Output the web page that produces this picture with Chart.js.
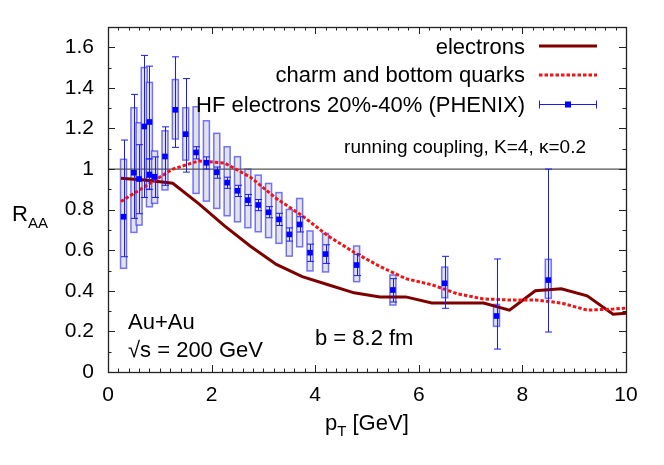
<!DOCTYPE html>
<html>
<head>
<meta charset="utf-8">
<script src="https://cdn.jsdelivr.net/npm/chart.js@4.4.0/dist/chart.umd.min.js"></script>
<style>
  body { margin: 0; background: #fff; }
</style>
</head>
<body>
<canvas id="raaChart" width="664" height="465"></canvas>
<script>
// Theory curves (pT in GeV)
const ptCurve = [0.25, 0.75, 1.25, 1.75, 2.25, 2.75, 3.25, 3.75, 4.25, 4.75, 5.25,
                 5.75, 6.25, 6.75, 7.25, 7.75, 8.25, 8.75, 9.25, 9.75, 10];
const electrons = [0.955, 0.945, 0.93, 0.83, 0.72, 0.62, 0.53, 0.47, 0.43, 0.39, 0.37,
                   0.37, 0.34, 0.34, 0.34, 0.305, 0.40, 0.41, 0.375, 0.285, 0.29];
const quarks = [0.84, 0.92, 1.0, 1.04, 1.03, 0.96, 0.855, 0.77, 0.67, 0.59, 0.52,
                0.46, 0.43, 0.385, 0.36, 0.355, 0.355, 0.34, 0.305, 0.31, 0.315];

// PHENIX HF electrons 20%-40%
const phenixPt  = [0.3, 0.5, 0.6, 0.7, 0.8, 0.8, 0.9, 1.1, 1.3, 1.5, 1.7, 1.9, 2.1, 2.3,
                   2.5, 2.7, 2.9, 3.1, 3.3, 3.5, 3.7, 3.9, 4.2, 4.8, 5.5, 6.5, 7.5, 8.5];
const phenixRaa = [0.765, 0.982, 0.951, 1.21, 1.232, 0.973, 0.962, 1.062, 1.292, 1.172, 1.082, 1.031, 0.984, 0.933,
                   0.893, 0.847, 0.823, 0.787, 0.752, 0.678, 0.727, 0.588, 0.581, 0.527, 0.404, 0.437, 0.276, 0.453];
const statLow  = [0.568, 0.757, 0.78, 0.86, 0.96, 0.90, 0.86, 0.92, 1.107, 0.985, 1.05, 1.0, 0.955, 0.905,
                  0.865, 0.82, 0.795, 0.76, 0.722, 0.645, 0.69, 0.545, 0.535, 0.475, 0.345, 0.314, 0.113, 0.197];
const statHigh = [1.143, 1.368, 1.12, 1.56, 1.507, 1.05, 1.06, 1.208, 1.553, 1.446, 1.11, 1.06, 1.01, 0.96,
                  0.92, 0.875, 0.85, 0.815, 0.782, 0.71, 0.765, 0.63, 0.627, 0.58, 0.46, 0.57, 0.557, 1.0];
const sysLow   = [0.511, 0.688, 0.724, 0.95, 0.814, 0.90, 0.831, 0.897, 1.148, 1.044, 0.88, 0.842, 0.806, 0.77,
                  0.74, 0.711, 0.691, 0.662, 0.634, 0.571, 0.617, 0.498, 0.493, 0.445, 0.33, 0.366, 0.225, 0.363];
const sysHigh  = [1.048, 1.302, 1.228, 1.50, 1.427, 1.05, 1.089, 1.189, 1.441, 1.302, 1.307, 1.238, 1.176, 1.11,
                  1.061, 1.0, 0.97, 0.929, 0.884, 0.801, 0.855, 0.695, 0.683, 0.621, 0.478, 0.517, 0.333, 0.555];

const xTicks = [0, 2, 4, 6, 8, 10];
const yTicks = [0, 0.2, 0.4, 0.6, 0.8, 1, 1.2, 1.4, 1.6];

const FONT = 'Liberation Sans, Arial, sans-serif';

// Systematic boxes under everything, stat bars just before the points
const phenixErrors = {
    id: 'phenixErrors',
    beforeDatasetsDraw(chart) {
        const { ctx, scales: { x, y } } = chart;
        ctx.save();
        phenixPt.forEach((pt, i) => {
            const px = x.getPixelForValue(pt);
            const top = y.getPixelForValue(sysHigh[i]);
            const bot = y.getPixelForValue(sysLow[i]);
            ctx.fillStyle = '#e3e3e3';
            ctx.fillRect(px - 3, top, 6, bot - top);
            ctx.strokeStyle = 'rgba(30,30,255,0.6)';
            ctx.lineWidth = 1.5;
            ctx.strokeRect(px - 3, top, 6, bot - top);
        });
        ctx.restore();
    },
    beforeDatasetDraw(chart, args) {
        if (args.meta.label !== 'phenix') return;
        const { ctx, scales: { x, y } } = chart;
        ctx.save();
        ctx.strokeStyle = '#1a1aff';
        ctx.lineWidth = 1;
        ctx.beginPath();
        phenixPt.forEach((pt, i) => {
            const px = Math.round(x.getPixelForValue(pt)) + 0.5;
            const top = y.getPixelForValue(statHigh[i]);
            const bot = y.getPixelForValue(statLow[i]);
            ctx.moveTo(px, top); ctx.lineTo(px, bot);
            ctx.moveTo(px - 3.5, top); ctx.lineTo(px + 3.5, top);
            ctx.moveTo(px - 3.5, bot); ctx.lineTo(px + 3.5, bot);
        });
        ctx.stroke();
        ctx.restore();
    }
};

// Frame, inward ticks on all sides, labels and legend
const decorations = {
    id: 'decorations',
    afterDraw(chart) {
        const { ctx, chartArea: a, scales: { x, y } } = chart;
        ctx.save();
        ctx.strokeStyle = '#222';
        ctx.lineWidth = 1;
        ctx.beginPath();
        for (let v = 0; v <= 10.001; v += 0.2) {
            const px = Math.round(x.getPixelForValue(v)) + 0.5;
            const major = Math.abs(v / 2 - Math.round(v / 2)) < 1e-6;
            const len = major ? 7 : 3.5;
            ctx.moveTo(px, a.bottom); ctx.lineTo(px, a.bottom - len);
            ctx.moveTo(px, a.top); ctx.lineTo(px, a.top + len);
        }
        for (let v = 0; v <= 1.7001; v += 0.1) {
            const py = Math.round(y.getPixelForValue(v)) + 0.5;
            const major = Math.abs(v / 0.2 - Math.round(v / 0.2)) < 1e-6;
            const len = major ? 7 : 3.5;
            ctx.moveTo(a.left, py); ctx.lineTo(a.left + len, py);
            ctx.moveTo(a.right, py); ctx.lineTo(a.right - len, py);
        }
        ctx.stroke();
        ctx.lineWidth = 1.3;
        ctx.strokeRect(Math.round(a.left) + 0.5, Math.round(a.top) + 0.5,
                       Math.round(a.right - a.left), Math.round(a.bottom - a.top));

        ctx.fillStyle = '#000';
        ctx.textBaseline = 'alphabetic';
        ctx.textAlign = 'left';

        // y title R_AA
        ctx.font = '22px ' + FONT;
        ctx.fillText('R', 12, 221);
        let w = ctx.measureText('R').width;
        ctx.font = '15px ' + FONT;
        ctx.fillText('AA', 12 + w, 228);

        // x title p_T [GeV]
        let xp = 325;
        ctx.font = '22px ' + FONT;
        ctx.fillText('p', xp, 430);
        xp += ctx.measureText('p').width;
        ctx.font = '15px ' + FONT;
        ctx.fillText('T', xp, 436);
        xp += ctx.measureText('T').width;
        ctx.font = '22px ' + FONT;
        ctx.fillText(' [GeV]', xp, 430);

        // annotations
        ctx.fillText('Au+Au', 128, 329);
        ctx.fillText('\u221As = 200 GeV', 128, 357);
        ctx.fillText('b = 8.2 fm', 315, 345);
        ctx.font = '19px ' + FONT;
        ctx.textAlign = 'right';
        ctx.fillText('running coupling, K=4, \u03BA=0.2', 586, 153);

        // legend
        ctx.font = '22px ' + FONT;
        ctx.fillText('electrons', 525, 54);
        ctx.fillText('charm and bottom quarks', 525, 82);
        ctx.fillText('HF electrons 20%-40% (PHENIX)', 525, 112);

        ctx.lineWidth = 3;
        ctx.strokeStyle = '#800000';
        ctx.beginPath(); ctx.moveTo(539, 46); ctx.lineTo(597, 46); ctx.stroke();
        ctx.strokeStyle = '#f01414';
        ctx.setLineDash([3.5, 2]);
        ctx.beginPath(); ctx.moveTo(539, 75); ctx.lineTo(597, 75); ctx.stroke();
        ctx.setLineDash([]);
        ctx.lineWidth = 1;
        ctx.strokeStyle = '#1a1aff';
        ctx.beginPath();
        ctx.moveTo(539, 104.5); ctx.lineTo(597, 104.5);
        ctx.moveTo(539.5, 100.5); ctx.lineTo(539.5, 108.5);
        ctx.moveTo(596.5, 100.5); ctx.lineTo(596.5, 108.5);
        ctx.stroke();
        ctx.fillStyle = '#0000ff';
        ctx.fillRect(565, 101.5, 6, 6);
        ctx.restore();
    }
};

const tickFont = { family: FONT, size: 21 };

new Chart(document.getElementById('raaChart'), {
    type: 'scatter',
    data: {
        datasets: [
            {
                label: 'phenix',
                data: phenixPt.map((pt, i) => ({ x: pt, y: phenixRaa[i] })),
                pointStyle: 'rect',
                pointRadius: 4,
                pointBorderWidth: 0,
                backgroundColor: '#0000ff',
                borderColor: '#0000ff',
                order: 0
            },
            {
                label: 'quarks',
                data: ptCurve.map((pt, i) => ({ x: pt, y: quarks[i] })),
                showLine: true,
                pointRadius: 0,
                borderColor: '#f01414',
                borderWidth: 3,
                borderDash: [3.5, 2],
                order: 1
            },
            {
                label: 'electrons',
                data: ptCurve.map((pt, i) => ({ x: pt, y: electrons[i] })),
                showLine: true,
                pointRadius: 0,
                borderColor: '#800000',
                borderWidth: 3,
                order: 2
            },
            {
                label: 'unity',
                data: [{ x: 0, y: 1 }, { x: 10, y: 1 }],
                showLine: true,
                pointRadius: 0,
                borderColor: '#555',
                borderWidth: 1.2,
                order: 3
            }
        ]
    },
    options: {
        responsive: false,
        animation: false,
        events: [],
        layout: { padding: { left: 0, right: 38, top: 27, bottom: 0 } },
        plugins: { legend: { display: false }, tooltip: { enabled: false } },
        scales: {
            x: {
                type: 'linear',
                min: 0,
                max: 10,
                grid: { display: false, drawTicks: false },
                border: { display: false },
                ticks: { font: tickFont, color: '#000', padding: 11, maxRotation: 0,
                         callback: v => String(v) },
                afterBuildTicks: s => { s.ticks = xTicks.map(v => ({ value: v })); },
                afterFit: s => { s.height = 93; }
            },
            y: {
                type: 'linear',
                min: 0,
                max: 1.7,
                grid: { display: false, drawTicks: false },
                border: { display: false },
                ticks: { font: tickFont, color: '#000', padding: 14,
                         callback: v => String(+v.toFixed(1)) },
                afterBuildTicks: s => { s.ticks = yTicks.map(v => ({ value: v })); },
                afterFit: s => { s.width = 108; }
            }
        }
    },
    plugins: [phenixErrors, decorations]
});
</script>
</body>
</html>
